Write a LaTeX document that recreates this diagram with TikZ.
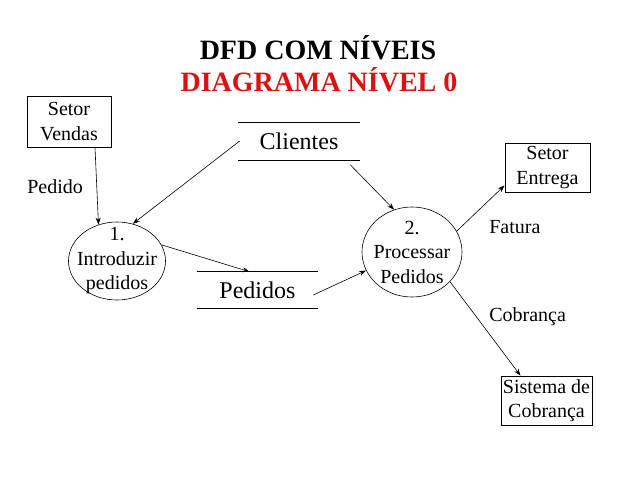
\documentclass[tikz,border=0pt]{standalone}
\usepackage{fontspec}
\setmainfont{Liberation Serif}
\usetikzlibrary{shapes.geometric, arrows.meta}
\definecolor{myred}{RGB}{218,18,18}

\begin{document}
\begin{tikzpicture}[
		x=1pt, y=-1pt, line width=0.6pt,
		smallfont/.style={font=\fontsize{20}{24.5}\selectfont},
		box/.style={rectangle, draw, line width=0.8pt, smallfont, align=center, inner sep=2pt, minimum width=85pt, minimum height=49pt},
		proc/.style={ellipse, draw, inner sep=0pt},
		ptext/.style={smallfont, align=center},
		store/.style={rectangle, font=\fontsize{24}{28}\selectfont, minimum height=37pt},
		flow/.style={smallfont, anchor=west, inner sep=0pt},
		arrow/.style={-{Stealth[length=7pt,width=5pt]}}
		]
		\useasboundingbox (0,0) rectangle (638,479);
		
		% Titles
		\node[font=\fontsize{28}{32}\selectfont\bfseries] (title) at (318,48) {DFD COM NÍVEIS};
		\node[font=\fontsize{28}{32}\selectfont\bfseries, text=myred] (subtitle) at (319,80) {DIAGRAMA NÍVEL 0};
		
		% Nodes
		\node[box, minimum width=84pt, minimum height=51pt] (vendas) at (69,121.5) {Setor\\Vendas};
		\node[box] (entrega) at (547.5,167.5) {Setor\\Entrega};
		\node[box] (cobranca) at (546.5,400.5) {Sistema de\\Cobrança};
		
		\node[proc, minimum width=97pt, minimum height=78pt, label={[ptext]center:{1.\\Introduzir\\pedidos}}] (p1) at (117,261) {};
		\node[proc, minimum width=100pt, minimum height=90pt, label={[ptext]center:{2.\\Processar\\Pedidos}}] (p2) at (412,252) {};
		
		\node[store, minimum width=122pt] (clientes) at (299,141) {Clientes};
		\node[store, minimum width=121pt, minimum height=36pt] (pedidos) at (257.5,290) {Pedidos};
		\draw (clientes.north west) -- (clientes.north east);
		\draw (clientes.south west) -- (clientes.south east);
		\draw (pedidos.north west) -- (pedidos.north east);
		\draw (pedidos.south west) -- (pedidos.south east);
		
		% Labels
		\node[flow] (lpedido) at (27,187) {Pedido};
		\node[flow] (lfatura) at (489,227) {Fatura};
		\node[flow] (lcobranca) at (489,317) {Cobrança};
		
		% Arrows
		\draw[arrow] ([xshift=26pt]vendas.south) -- (p1.117);
		\draw[arrow] ([xshift=2pt]clientes.west) -- (p1.67);
		\draw[arrow] ([xshift=-10pt,yshift=-5pt]clientes.south east) -- (p2.113);
		\draw[arrow] (p1.20) -- ([xshift=-8pt]pedidos.north);
		\draw[arrow] ([xshift=-5pt,yshift=-5pt]pedidos.east) -- (p2.202);
		\draw[arrow] (p2.25) -- ([yshift=7pt]entrega.south west);
		\draw[arrow] (p2.-38) -- ([xshift=-26pt]cobranca.north);
		
	\end{tikzpicture}
\end{document}
